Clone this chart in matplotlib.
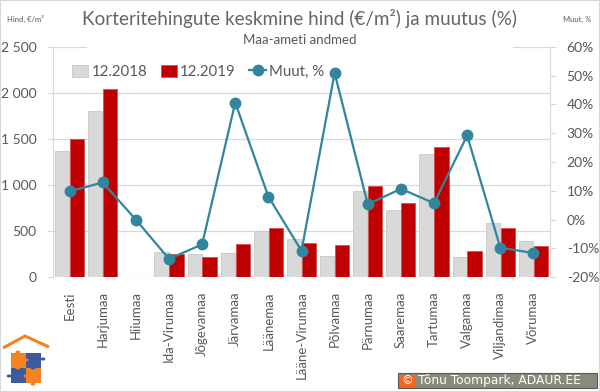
import matplotlib
matplotlib.use("Agg")
import matplotlib.pyplot as plt
import numpy as np
from matplotlib.ticker import FuncFormatter, MultipleLocator
from matplotlib.patches import Rectangle, Circle
from matplotlib.lines import Line2D

plt.rcParams['font.family'] = ['Lato', 'DejaVu Sans']

categories = ["Eesti", "Harjumaa", "Hiiumaa", "Ida-Virumaa", "Jõgevamaa", "Järvamaa",
              "Läänemaa", "Lääne-Virumaa", "Põlvamaa", "Pärnumaa", "Saaremaa",
              "Tartumaa", "Valgamaa", "Viljandimaa", "Võrumaa"]
price_2018 = [1365, 1808, 0, 278, 253, 264, 500, 416, 232, 935, 732, 1337, 221, 593, 391]
price_2019 = [1500, 2043, 0, 250, 224, 359, 539, 370, 348, 985, 804, 1409, 286, 539, 340]
change_pct = [9.8, 12.9, 0.0, -13.6, -8.6, 40.6, 8.0, -10.8, 50.9, 5.3, 10.7, 5.7, 29.2, -9.7, -11.6]

W, H = 600, 392
fig = plt.figure(figsize=(W / 100, H / 100), dpi=100)

def fx(px):
    return px / W

def fy(py):
    return 1 - py / H

left, right, top, bottom = 53, 550, 46.7, 277.3
ax = fig.add_axes([fx(left), fy(bottom), fx(right - left), (bottom - top) / H])
ax2 = ax.twinx()

x = np.arange(len(categories))
bw = 0.43
off = 0.225
grey = '#d9d9d9'
red = '#c00000'
teal = '#31859c'
txt = '#595959'
gridc = '#d9d9d9'

b1 = ax.bar(x - off, price_2018, bw, color=grey, edgecolor='#c8c8c8', linewidth=0.6, label='12.2018', zorder=2)
b2 = ax.bar(x + off, price_2019, bw, color=red, edgecolor='#d05050', linewidth=0.6, label='12.2019', zorder=2)
ax.set_xlim(-0.5, len(categories) - 0.5)
ax.set_ylim(0, 2500)
ax.yaxis.set_major_locator(MultipleLocator(500))
ax.yaxis.set_major_formatter(FuncFormatter(lambda v, p: f"{int(v):,}".replace(",", " ")))
ax.grid(axis='y', color=gridc, linewidth=0.9, zorder=0)
ax.set_axisbelow(True)

ln, = ax2.plot(x, [c / 100 for c in change_pct], color=teal, linewidth=1.6, marker='o',
               markersize=7.5, markerfacecolor=teal, markeredgecolor=teal, label='Muut, %', zorder=5)
ax2.set_ylim(-0.2, 0.6)
ax2.yaxis.set_major_locator(MultipleLocator(0.1))
ax2.yaxis.set_major_formatter(FuncFormatter(lambda v, p: f"{round(v * 100):d}%"))

for a in (ax, ax2):
    a.spines['top'].set_visible(False)
    a.spines['bottom'].set_visible(False)
ax.spines['right'].set_visible(False)
ax.spines['left'].set_color(gridc)
ax2.spines['left'].set_visible(False)
ax2.spines['right'].set_color(gridc)

ax.set_xticks(x)
ax.set_xticklabels(categories, rotation=90, fontsize=9.5, color=txt)
ax.tick_params(axis='x', length=0, pad=10)
ax.tick_params(axis='y', length=4, color=gridc, labelsize=10, labelcolor=txt, pad=8)
ax2.tick_params(axis='y', length=4, color=gridc, labelsize=10, labelcolor=txt, pad=8)

# legend
leg = ax2.legend(handles=[b1, b2, ln], loc='center', bbox_to_anchor=(fx(198), fy(72)),
                 bbox_transform=fig.transFigure, ncol=3, frameon=False, fontsize=10.8,
                 handlelength=1.1, handleheight=0.9, handletextpad=0.2, columnspacing=0.9,
                 labelcolor=txt)

# cover part of the top gridline behind title area
fig.patches.append(Rectangle((fx(87), fy(50)), fx(513 - 87), 6 / H, transform=fig.transFigure,
                             facecolor='white', edgecolor='none', zorder=3))

fig.text(0.5, fy(19), "Korteritehingute keskmine hind (€/m²) ja muutus (%)", ha='center', va='center',
         fontsize=13.6, color='#666666')
fig.text(0.5, fy(40), "Maa-ameti andmed", ha='center', va='center', fontsize=9.5, color=txt, zorder=4)
fig.text(fx(7), fy(19), "Hind, €/m²", ha='left', va='center', fontsize=5.5, color=txt)
fig.text(fx(591), fy(19), "Muut, %", ha='right', va='center', fontsize=5.5, color=txt)

# copyright box
fig.patches.append(Rectangle((fx(398), fy(388)), fx(199), 15 / H, transform=fig.transFigure,
                             facecolor='#8a8a7c', edgecolor='#5a5a50', linewidth=0.8, zorder=3))
fig.patches.append(Rectangle((fx(400), fy(386.5)), fx(15), 12 / H, transform=fig.transFigure,
                             facecolor='#f26522', edgecolor='none', zorder=4))
fig.text(fx(407.5), fy(380.5), "©", ha='center', va='center', fontsize=8.5, color='white',
         family=['DejaVu Sans'], zorder=5)
fig.text(fx(418), fy(380.5), "Tõnu Toompark, ADAUR.EE", ha='left', va='center', fontsize=8.8,
         color='white', family=['DejaVu Sans'], zorder=5)

# logo
orange = '#f58220'
blue = '#3f5a9c'
fig.lines.append(Line2D([fx(3), fx(25), fx(49)], [fy(348), fy(336), fy(347)], transform=fig.transFigure,
                        color=orange, linewidth=2.2, solid_capstyle='butt', solid_joinstyle='miter'))
sq = 15
for (px, py, c) in [(11, 353, orange), (26, 353, blue), (11, 368, blue), (26, 368, orange)]:
    fig.patches.append(Rectangle((fx(px), fy(py + sq)), fx(sq), sq / H, transform=fig.transFigure,
                                 facecolor=c, edgecolor='none'))
for (cx, cy, c) in [(26, 360, orange), (33, 368, blue), (18, 368, orange), (26, 376, orange),
                    (9, 376, blue), (43, 359, blue), (33, 384, orange), (18, 352, orange)]:
    fig.patches.append(Circle((fx(cx), fy(cy)), 2.4 / W, transform=fig.transFigure,
                              facecolor=c, edgecolor='none'))

# outer border
fig.patches.append(Rectangle((0, 0), 1, 1, transform=fig.transFigure, facecolor='none',
                             edgecolor='#d9d9d9', linewidth=1.5, zorder=10))

fig.savefig("out.png", dpi=100)
